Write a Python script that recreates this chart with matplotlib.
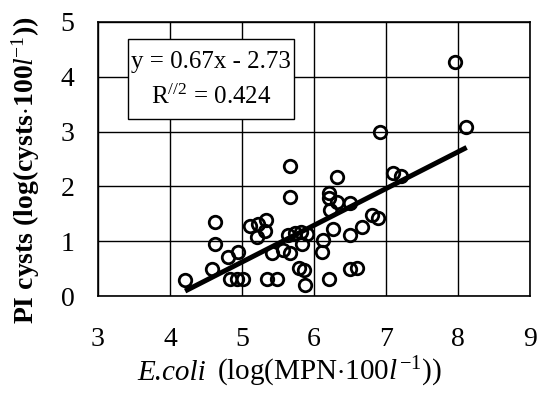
import matplotlib
matplotlib.use("Agg")
import matplotlib.pyplot as plt
from matplotlib.patches import Rectangle
import numpy as np

plt.rcParams['font.family'] = ['Liberation Serif', 'DejaVu Serif']
plt.rcParams['mathtext.fontset'] = 'custom'
plt.rcParams['mathtext.rm'] = 'Liberation Serif'
plt.rcParams['mathtext.it'] = 'Liberation Serif:italic'
plt.rcParams['mathtext.bf'] = 'Liberation Serif:bold'

ecoli = [4.21, 4.58, 4.63, 4.63, 4.81, 4.94, 4.83, 4.93, 5.01, 5.11,
         5.22, 5.33, 5.32, 5.21, 5.42, 5.35, 5.49, 5.67, 5.67, 5.64,
         5.74, 5.82, 5.90, 5.83, 5.57, 5.67, 5.79, 5.86, 5.875, 6.125,
         6.11, 6.21, 6.32, 6.21, 6.21, 6.32, 6.50, 6.22, 6.26, 6.50,
         6.67, 6.81, 6.89, 6.50, 6.60, 6.92, 7.10, 7.21, 7.96, 8.11]
cysts = [0.30, 0.50, 1.35, 0.95, 0.72, 0.81, 0.31, 0.31, 0.31, 1.27,
         1.32, 1.39, 1.19, 1.08, 0.79, 0.31, 0.31, 2.37, 1.81, 1.11,
         1.15, 1.17, 1.13, 0.95, 0.84, 0.78, 0.51, 0.47, 0.20, 1.02,
         0.80, 0.31, 2.17, 1.88, 1.79, 1.72, 1.70, 1.57, 1.22, 1.11,
         1.26, 1.48, 1.42, 0.49, 0.51, 2.99, 2.24, 2.19, 4.27, 3.08]

slope = 0.67
intercept = -2.73
fit_x = [4.21, 8.12]
x_ticks = [3, 4, 5, 6, 7, 8, 9]
y_ticks = [0, 1, 2, 3, 4, 5]

fig = plt.figure(figsize=(5.39, 3.94), dpi=100)
ax = fig.add_axes([0.1818, 0.2487, 0.8015, 0.6955])
ax.set_xlim(3, 9)
ax.set_ylim(0, 5)
ax.set_xticks(x_ticks)
ax.set_yticks(y_ticks)
ax.grid(True, color='black', linewidth=1.0)
ax.set_axisbelow(True)
for s in ax.spines.values():
    s.set_linewidth(1.2)
    s.set_color('black')
ax.tick_params(length=0, labelsize=20)
ax.tick_params(axis='x', pad=22)
ax.tick_params(axis='y', pad=17)

fx = np.array(fit_x)
ax.plot(fx, slope * fx + intercept, color='black', linewidth=3.6, zorder=3,
        solid_capstyle='butt')
ax.plot(ecoli, cysts, linestyle='none', marker='o', markersize=9,
        markerfacecolor='none', markeredgecolor='black', markeredgewidth=2.0,
        zorder=4)

rect = Rectangle((0.069, 0.646), 0.385, 0.292, transform=ax.transAxes,
                 facecolor='white', edgecolor='black', linewidth=1.0, zorder=5)
ax.add_patch(rect)
ax.text(0.262, 0.854, 'y = 0.67x - 2.73', transform=ax.transAxes,
        ha='center', va='center', fontsize=18, zorder=6)
ax.text(0.262, 0.726, r'R$^{//2}$ = 0.424', transform=ax.transAxes,
        ha='center', va='center', fontsize=18, zorder=6)

# x-axis title: italic species name followed by the units
ax.text(0.250, -0.305, 'E.coli', transform=ax.transAxes, fontsize=21,
        fontstyle='italic', ha='right', va='baseline')
ax.text(0.275, -0.305, r'(log(MPN$\cdot$100$\it{l}$$^{\,\mathrm{-1}}$))',
        transform=ax.transAxes, fontsize=21, ha='left', va='baseline')

ax.set_ylabel(r'PI cysts (log(cysts$\cdot$100$\it{l}$$^{\mathrm{-1}}$))',
              fontsize=20, fontweight='bold')
ax.yaxis.set_label_coords(-0.13, 0.46)

fig.savefig('out.png', dpi=100)
